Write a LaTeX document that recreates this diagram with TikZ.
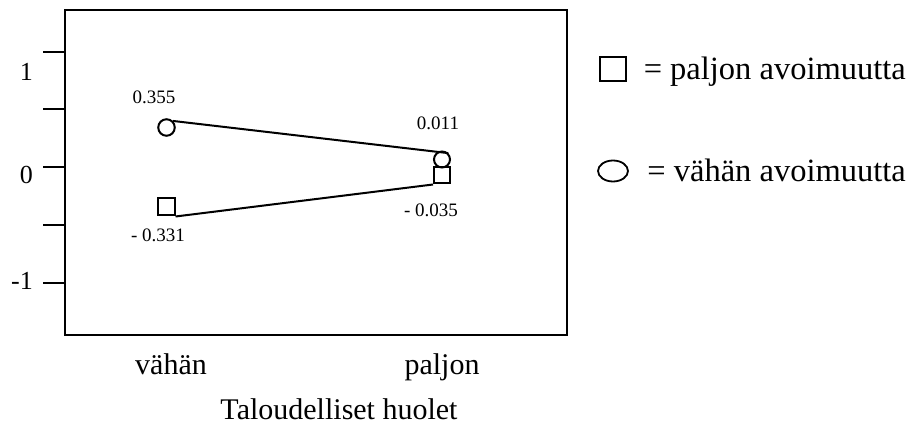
\documentclass[tikz,border=0pt]{standalone}
\usepackage{fontspec}
\setmainfont{Liberation Serif}
\usetikzlibrary{shapes.geometric}
\begin{document}
\begin{tikzpicture}[x=1pt,y=-1pt,
  frame/.style={draw,line width=2.2pt,inner sep=0pt,anchor=north west},
  tickln/.style={line width=2pt},
  dataln/.style={line width=2pt},
  mcirc/.style={circle,draw,line width=2pt,minimum size=16.5pt,inner sep=0pt},
  msq/.style={rectangle,draw,line width=2pt,minimum size=17pt,inner sep=0pt},
  mell/.style={ellipse,draw,line width=1.8pt,inner sep=0pt},
  ticklab/.style={font=\fontsize{26}{30}\selectfont,anchor=east,inner sep=0pt},
  datalab/.style={font=\fontsize{19}{23}\selectfont,inner sep=0pt},
  catlab/.style={font=\fontsize{30}{36}\selectfont,anchor=base,inner sep=0pt},
  leglab/.style={font=\fontsize{32.5}{38}\selectfont,anchor=base east,inner sep=0pt}]
\useasboundingbox (0,0) rectangle (922,430);
% plot frame
\node[frame,minimum width=502pt,minimum height=325pt] (box) at (64,9) {};
% ticks
\foreach \yy in {52,109,167,225,283}{\draw[tickln] (43,\yy) -- (64,\yy);}
\node[ticklab] (t1) at (33,72) {1};
\node[ticklab] (t0) at (33,175) {0};
\node[ticklab] (tm1) at (33,281) {-1};
% markers
\node[mcirc] (cL) at (166.5,127.5) {};
\node[msq] (sL) at (166,207) {};
\node[mcirc,minimum size=16pt] (cR) at (442,159.5) {};
\node[msq,minimum size=16pt] (sR) at (442,175.5) {};
% connectors
\draw[dataln] (cL.north east) -- (cR.north east);
\draw[dataln] (sL.south east) -- (sR.south west);
% data labels
\node[datalab] (v1) at (154,97) {0.355};
\node[datalab] (v2) at (158,235) {- 0.331};
\node[datalab] (v3) at (438,123) {0.011};
\node[datalab] (v4) at (431,210) {- 0.035};
% category labels
\node[catlab] (xa) at (171,375) {vähän};
\node[catlab] (xb) at (442,375) {paljon};
\node[catlab] (xt) at (339,420) {Taloudelliset huolet};
% legend
\node[msq,minimum width=26pt,minimum height=24pt] (lsq) at (613,69) {};
\node[leglab] (l1) at (906,80) {= paljon avoimuutta};
\node[mell,minimum width=30pt,minimum height=21pt] (lci) at (613,171) {};
\node[leglab] (l2) at (906,182) {= vähän avoimuutta};
\end{tikzpicture}
\end{document}
